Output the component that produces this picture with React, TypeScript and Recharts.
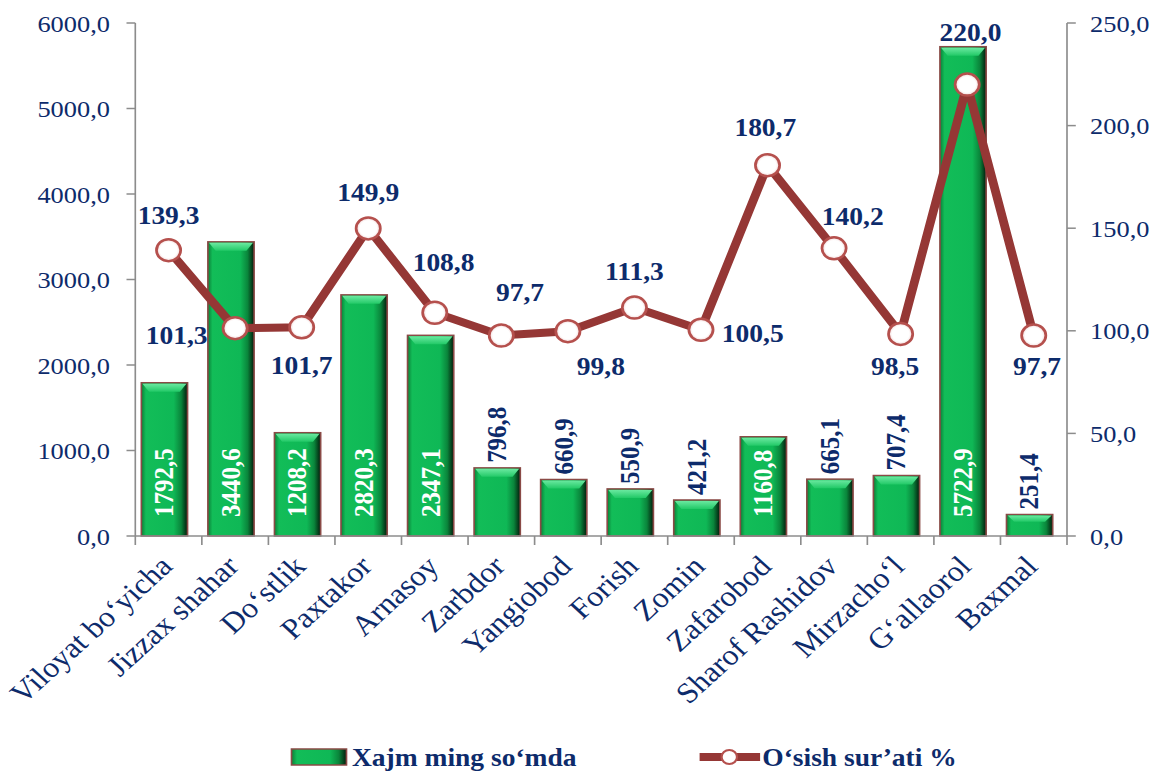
import React from "react";
import { ComposedChart, Bar, Line, XAxis, YAxis, LabelList } from "recharts";

// ─── Data ────────────────────────────────────────────────────────────────────

const districts = [
  "Viloyat bo‘yicha",
  "Jizzax shahar",
  "Do‘stlik",
  "Paxtakor",
  "Arnasoy",
  "Zarbdor",
  "Yangiobod",
  "Forish",
  "Zomin",
  "Zafarobod",
  "Sharof Rashidov",
  "Mirzacho‘l",
  "G‘allaorol",
  "Baxmal",
];

const volume = [1792.5, 3440.6, 1208.2, 2820.3, 2347.1, 796.8, 660.9, 550.9, 421.2, 1160.8, 665.1, 707.4, 5722.9, 251.4];
const growth = [139.3, 101.3, 101.7, 149.9, 108.8, 97.7, 99.8, 111.3, 100.5, 180.7, 140.2, 98.5, 220.0, 97.7];

const leftTicks = [0, 1000, 2000, 3000, 4000, 5000, 6000];
const rightTicks = [0, 50, 100, 150, 200, 250];

const legendVolume = "Xajm ming so‘mda";
const legendGrowth = "O‘sish sur’ati %";

// ─── Layout / style ──────────────────────────────────────────────────────────

// the reference is stretched horizontally, so the chart is drawn narrower and scaled
const STRETCH = 1.1;
const W = 1050;
const H = 773;
const LEFT_W = 123;
const RIGHT_W = 80;
const TOP = 23;
const XAXIS_H = 237;
const PLOT_W = W - LEFT_W - RIGHT_W;
const BAR_SHIFT = -3.5; // bars sit a touch left of the line points in the original

const NAVY = "#0d2b6b";
const LINE_RED = "#953735";
const AXIS = "#8c8c8c";
const FONT = "'Liberation Serif', 'Times New Roman', Times, serif";

// where each growth label sits relative to its point: dx, dy, anchor
const LINE_LABEL_POS: [number, number, "middle" | "start" | "end"][] = [
  [0, -34, "middle"],
  [-25, 8, "end"],
  [0, 39, "middle"],
  [0, -35, "middle"],
  [8, -50, "middle"],
  [17, -43, "middle"],
  [30, 36, "middle"],
  [0, -36, "middle"],
  [19, 4, "start"],
  [-2, -37, "middle"],
  [17, -31, "middle"],
  [-5, 33, "middle"],
  [3, -52, "middle"],
  [3, 31, "middle"],
];

const fmt = (v: number) => v.toFixed(1).replace(".", ",");

const rows = districts.map((name, i) => ({ name, volume: volume[i], growth: growth[i] }));

// ─── Pieces ──────────────────────────────────────────────────────────────────

function BevelBar(props: any) {
  const { y, width, height } = props;
  const x = props.x + BAR_SHIFT;
  if (!height || height <= 0) return null;
  const b = Math.min(9, height / 3);
  return (
    <g>
      <rect x={x} y={y} width={width} height={height} fill="url(#barGrad)" stroke="#8a4a46" strokeWidth={1.5} />
      <polygon
        points={`${x + 1},${y + 1} ${x + width - 1},${y + 1} ${x + width - 7},${y + b} ${x + 7},${y + b}`}
        fill="url(#bevelGrad)"
      />
    </g>
  );
}

function BarValueLabel(props: any) {
  const vb = props.viewBox || props;
  const { x, y, width, height } = vb;
  const value = props.value as number;
  const cx = x + BAR_SHIFT + width / 2;
  const inside = height > 90;
  const ty = inside ? y + height - 19 : y - 5;
  return (
    <text
      transform={`translate(${cx},${ty}) rotate(-90)`}
      textAnchor="start"
      dominantBaseline="central"
      fill={inside ? "#ffffff" : NAVY}
      style={{ fontFamily: FONT, fontWeight: "bold", fontSize: 25 }}
    >
      {fmt(value)}
    </text>
  );
}

function GrowthLabel(props: any) {
  const vb = props.viewBox || props;
  const x = vb.x ?? props.x;
  const y = vb.y ?? props.y;
  const i = props.index ?? 0;
  const [dx, dy, anchor] = LINE_LABEL_POS[i] || [0, -35, "middle"];
  return (
    <text
      x={x + dx}
      y={y + dy}
      textAnchor={anchor}
      dominantBaseline="central"
      fill={NAVY}
      style={{ fontFamily: FONT, fontWeight: "bold", fontSize: 25 }}
    >
      {fmt(props.value)}
    </text>
  );
}

function GrowthDot(props: any) {
  const { cx, cy } = props;
  if (cx == null || cy == null) return null;
  return <circle cx={cx} cy={cy} r={11} fill="url(#dotGrad)" stroke="#b5504d" strokeWidth={2.5} />;
}

function CategoryTick(props: any) {
  const { x, y, payload } = props;
  const band = PLOT_W / districts.length;
  const i = payload.index ?? props.index;
  return (
    <g>
      <line x1={x - band / 2} y1={y} x2={x - band / 2} y2={y + 9} stroke={AXIS} strokeWidth={1.5} />
      {i === districts.length - 1 && (
        <line x1={x + band / 2} y1={y} x2={x + band / 2} y2={y + 9} stroke={AXIS} strokeWidth={1.5} />
      )}
      <text
        transform={`translate(${x + 5},${y + 32}) rotate(-45)`}
        textAnchor="end"
        fill={NAVY}
        style={{ fontFamily: FONT, fontSize: 29 }}
      >
        {payload.value}
      </text>
    </g>
  );
}

// ─── Chart ───────────────────────────────────────────────────────────────────

export default function App() {
  const tick = { fill: NAVY, fontSize: 24, fontFamily: FONT, style: { fontFamily: FONT } };
  return (
    <div
      style={{
        position: "absolute",
        left: 0,
        top: 0,
        width: 1155,
        height: 773,
        overflow: "hidden",
        background: "#fff",
        fontFamily: FONT,
      }}
    >
      <div style={{ position: "relative", width: W, height: H, transform: `scaleX(${STRETCH})`, transformOrigin: "0 0" }}>
        <ComposedChart width={W} height={H} data={rows} margin={{ top: TOP, right: 0, bottom: 0, left: 0 }} style={{ fontFamily: FONT }}>
          <defs>
            <linearGradient id="barGrad" x1="0" y1="0" x2="1" y2="0">
              <stop offset="0%" stopColor="#0a7f38" />
              <stop offset="10%" stopColor="#12bd58" />
              <stop offset="70%" stopColor="#0fb856" />
              <stop offset="86%" stopColor="#0a853b" />
              <stop offset="100%" stopColor="#021a0b" />
            </linearGradient>
            <linearGradient id="bevelGrad" x1="0" y1="0" x2="0" y2="1">
              <stop offset="0%" stopColor="#6ae9a0" />
              <stop offset="100%" stopColor="#22c967" />
            </linearGradient>
            <radialGradient id="dotGrad" cx="50%" cy="50%" r="50%">
              <stop offset="0%" stopColor="#ffffff" />
              <stop offset="70%" stopColor="#ffffff" />
              <stop offset="100%" stopColor="#f1d6d6" />
            </radialGradient>
          </defs>
          <XAxis
            dataKey="name"
            height={XAXIS_H}
            interval={0}
            tickSize={0}
            tickMargin={0}
            tickLine={false}
            axisLine={{ stroke: AXIS, strokeWidth: 1.5 }}
            tick={<CategoryTick />}
          />
          <YAxis
            yAxisId="left"
            width={LEFT_W}
            domain={[0, 6000]}
            ticks={leftTicks}
            tickFormatter={fmt}
            tick={tick}
            tickSize={8}
            tickMargin={15}
            axisLine={{ stroke: AXIS, strokeWidth: 1.5 }}
            tickLine={{ stroke: AXIS, strokeWidth: 1.5 }}
          />
          <YAxis
            yAxisId="right"
            orientation="right"
            width={RIGHT_W}
            domain={[0, 250]}
            ticks={rightTicks}
            tickFormatter={fmt}
            tick={tick}
            tickSize={8}
            tickMargin={13}
            axisLine={{ stroke: AXIS, strokeWidth: 1.5 }}
            tickLine={{ stroke: AXIS, strokeWidth: 1.5 }}
          />
          <Bar yAxisId="left" dataKey="volume" barSize={42} shape={<BevelBar />} isAnimationActive={false}>
            <LabelList dataKey="volume" content={<BarValueLabel />} />
          </Bar>
          <Line
            yAxisId="right"
            type="linear"
            dataKey="growth"
            stroke={LINE_RED}
            strokeWidth={8}
            dot={<GrowthDot />}
            activeDot={false}
            isAnimationActive={false}
          >
            <LabelList dataKey="growth" content={<GrowthLabel />} />
          </Line>
        </ComposedChart>

        <svg width={W} height={H} style={{ position: "absolute", left: 0, top: 0, pointerEvents: "none" }}>
          <rect x={265} y={749} width={50} height={16} fill="url(#barGrad)" stroke="#8a4a46" strokeWidth={1.5} />
          <text x={320} y={766} fill={NAVY} style={{ fontFamily: FONT, fontWeight: "bold", fontSize: 25 }}>
            {legendVolume}
          </text>
          <line x1={636} y1={757} x2={691} y2={757} stroke={LINE_RED} strokeWidth={8} />
          <circle cx={663} cy={757} r={7} fill="#ffffff" stroke="#b5504d" strokeWidth={2} />
          <text x={693} y={766} fill={NAVY} style={{ fontFamily: FONT, fontWeight: "bold", fontSize: 25 }}>
            {legendGrowth}
          </text>
        </svg>
      </div>
    </div>
  );
}
